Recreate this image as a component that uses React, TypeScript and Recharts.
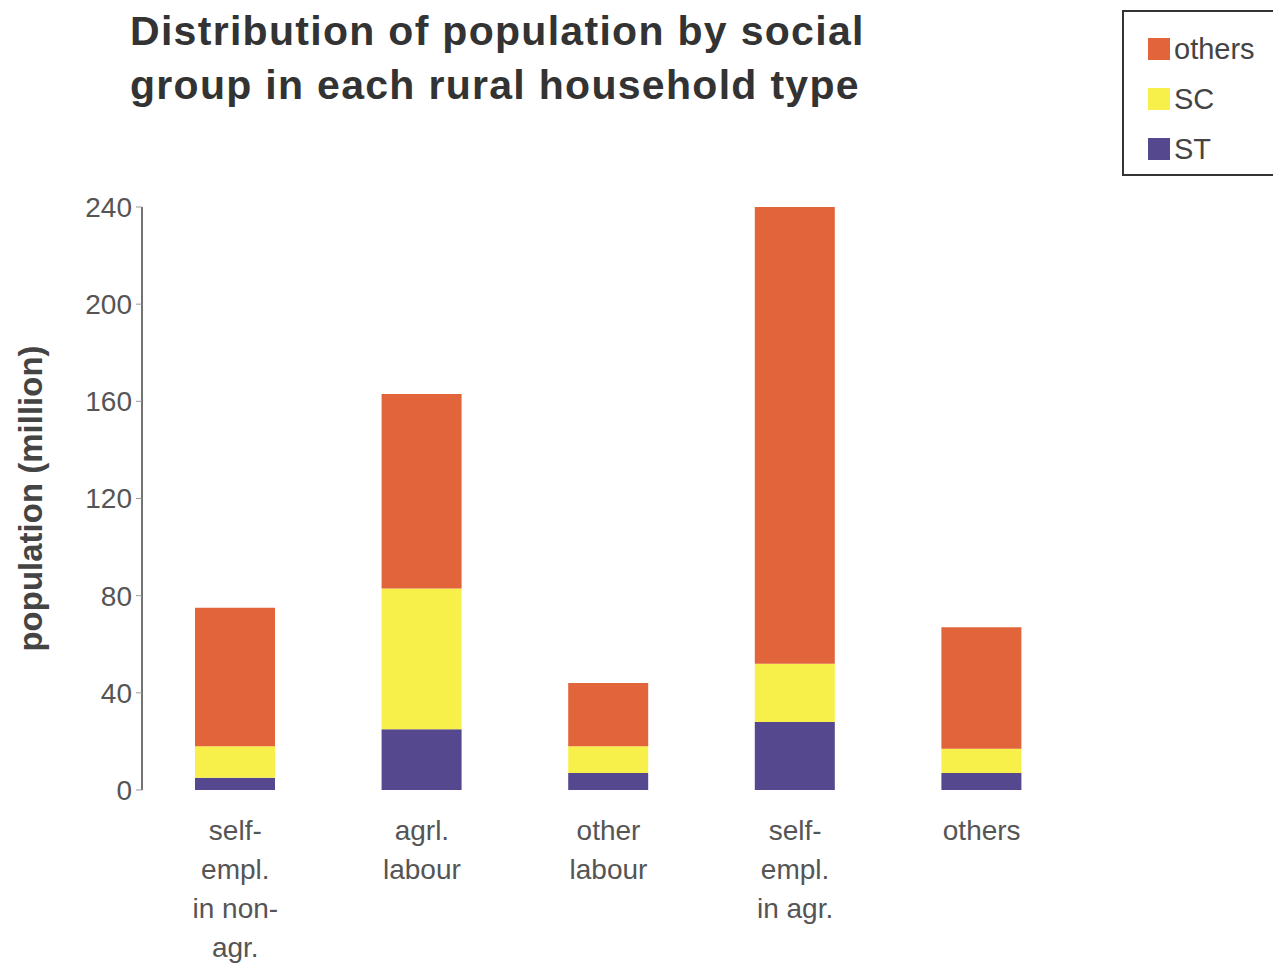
import { BarChart, Bar, XAxis, YAxis } from "recharts";

const categories = ["self-empl. in non-agr.", "agrl. labour", "other labour", "self-empl. in agr.", "others"];
const tickLines = [
  ["self-", "empl.", "in non-", "agr."],
  ["agrl.", "labour"],
  ["other", "labour"],
  ["self-", "empl.", "in agr."],
  ["others"],
];
const stValues = [5, 25, 7, 28, 7];
const scValues = [13, 58, 11, 24, 10];
const othersValues = [57, 80, 26, 188, 50];
const yTicks = [0, 40, 80, 120, 160, 200, 240];

const legendItems = [
  { name: "others", color: "#E2643A" },
  { name: "SC", color: "#F8F04A" },
  { name: "ST", color: "#55488F" },
];

const data = categories.map((c, i) => ({
  name: c,
  ST: stValues[i],
  SC: scValues[i],
  others: othersValues[i],
}));

const font = "'Liberation Sans', Arial, sans-serif";

function CatTick({ x, y, payload }: any) {
  const lines = tickLines[payload.index] ?? [payload.value];
  return (
    <text x={x} y={y + 42} textAnchor="middle" fontSize={28} fill="#555" fontFamily={font}>
      {lines.map((l, i) => (
        <tspan key={i} x={x} dy={i === 0 ? 0 : 39}>{l}</tspan>
      ))}
    </text>
  );
}

export default function App() {
  return (
    <div style={{ position: "relative", width: 1265, height: 960, background: "#fff", fontFamily: font }}>
      <div style={{ position: "absolute", left: 122, top: -4, fontSize: 41, fontWeight: "bold", color: "#333", lineHeight: "54px", letterSpacing: 1.3, whiteSpace: "nowrap" }}>
        <div>Distribution of population by social</div>
        <div>group in each rural household type</div>
      </div>
      <div style={{ position: "absolute", left: 1114, top: 2, width: 160, height: 166, border: "2px solid #333", boxSizing: "border-box", padding: "12px 0 0 24px" }}>
        {legendItems.map((d) => (
          <div key={d.name} style={{ display: "flex", alignItems: "center", height: 50, fontSize: 29, color: "#444" }}>
            <div style={{ width: 22, height: 22, background: d.color, marginRight: 4 }} />
            {d.name}
          </div>
        ))}
      </div>
      <BarChart width={1265} height={960} data={data} margin={{ top: 199, right: 198, bottom: 148, left: 0 }} barSize={80}>
        <XAxis dataKey="name" axisLine={false} tickLine={false} tick={<CatTick />} interval={0} />
        <YAxis
          width={134}
          domain={[0, 240]}
          ticks={yTicks}
          tick={{ fontSize: 28, fill: "#555", fontFamily: font }}
          tickSize={6}
          tickMargin={4}
          axisLine={{ stroke: "#444", strokeWidth: 1.5 }}
          tickLine={{ stroke: "#999" }}
          label={{ value: "population (million)", angle: -90, position: "insideLeft", offset: 22, style: { fontSize: 33, fontWeight: "bold", fill: "#444", fontFamily: font, textAnchor: "middle" } }}
        />
        <Bar dataKey="ST" stackId="a" fill="#55488F" isAnimationActive={false} />
        <Bar dataKey="SC" stackId="a" fill="#F8F04A" isAnimationActive={false} />
        <Bar dataKey="others" stackId="a" fill="#E2643A" isAnimationActive={false} />
      </BarChart>
    </div>
  );
}
